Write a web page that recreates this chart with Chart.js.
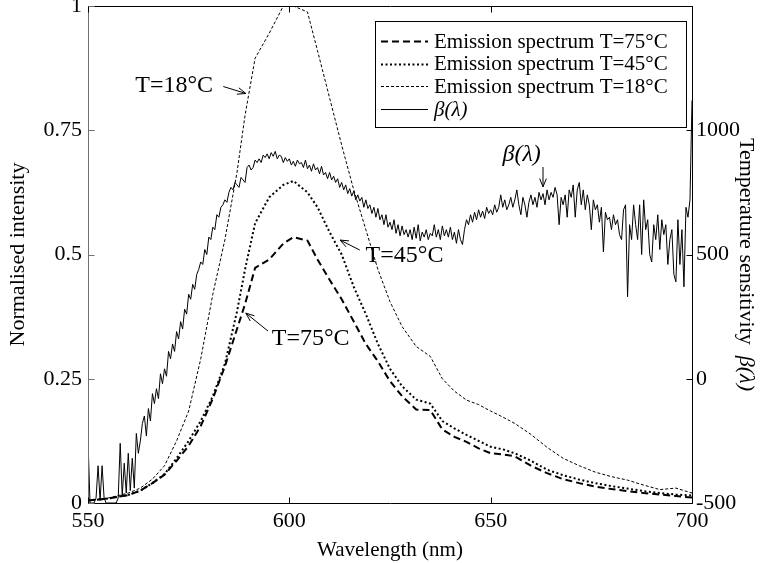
<!DOCTYPE html>
<html><head><meta charset="utf-8">
<script src="https://cdn.jsdelivr.net/npm/chart.js@4.4.0/dist/chart.umd.min.js"></script>
<style>html,body{margin:0;padding:0;background:#fff;}</style>
</head><body><canvas id="c" width="769" height="563"></canvas>
<script>
// ---- data ----
const specWl = [550,555,560,563,566,569,572,575,578,581,584,587,589,591.5,595,598.5,601,604.5,607,610,613,616,619,622,625,628,631.5,635,638,641,644,647,650,653,656,660,664,668,672,676,680,684,688,692,696,700];
const t75 = [0.005,0.009,0.016,0.025,0.04,0.057,0.085,0.115,0.155,0.21,0.275,0.35,0.4,0.473,0.49,0.522,0.535,0.528,0.49,0.449,0.41,0.365,0.32,0.285,0.245,0.215,0.188,0.187,0.148,0.133,0.123,0.11,0.1,0.098,0.094,0.075,0.06,0.048,0.04,0.033,0.028,0.024,0.02,0.017,0.014,0.011];
const t45 = [0.005,0.009,0.016,0.025,0.04,0.058,0.09,0.125,0.165,0.215,0.28,0.385,0.47,0.563,0.615,0.64,0.648,0.625,0.595,0.545,0.5,0.435,0.38,0.32,0.27,0.235,0.208,0.2,0.165,0.15,0.137,0.125,0.113,0.108,0.1,0.085,0.067,0.056,0.047,0.04,0.034,0.029,0.024,0.02,0.017,0.015];
const t18 = [0.005,0.01,0.02,0.03,0.048,0.075,0.125,0.185,0.29,0.42,0.53,0.665,0.78,0.895,0.945,1.0,1.0,0.988,0.91,0.815,0.72,0.63,0.55,0.47,0.405,0.355,0.315,0.295,0.25,0.225,0.207,0.198,0.185,0.173,0.16,0.138,0.112,0.09,0.075,0.062,0.053,0.046,0.036,0.027,0.03,0.02];
const betaWl = [
550,550.5,551,551.5,552,552.5,553,553.5,554,554.5,555,555.5,556,556.5,557,557.5,558,558.5,559,559.5,
560,560.5,561,561.5,562,562.5,563,563.5,564,564.5,565,565.5,566,566.5,567,567.5,568,568.5,569,569.5,
570,570.5,571,571.5,572,572.5,573,573.5,574,574.5,575,575.5,576,576.5,577,577.5,578,578.5,579,579.5,
580,580.5,581,581.5,582,582.5,583,583.5,584,584.5,585,585.5,586,586.5,587,587.5,588,588.5,589,589.5,
590,590.5,591,591.5,592,592.5,593,593.5,594,594.5,595,595.5,596,596.5,597,597.5,598,598.5,599,599.5,
600,600.5,601,601.5,602,602.5,603,603.5,604,604.5,605,605.5,606,606.5,607,607.5,608,608.5,609,609.5,
610,610.5,611,611.5,612,612.5,613,613.5,614,614.5,615,615.5,616,616.5,617,617.5,618,618.5,619,619.5,
620,620.5,621,621.5,622,622.5,623,623.5,624,624.5,625,625.5,626,626.5,627,627.5,628,628.5,629,629.5,
630,630.5,631,631.5,632,632.5,633,633.5,634,634.5,635,635.5,636,636.5,637,637.5,638,638.5,639,639.5,
640,640.5,641,641.5,642,642.5,643,643.5,644,644.5,645,645.5,646,646.5,647,647.5,648,648.5,649,649.5,
650,650.5,651,651.5,652,652.5,653,653.5,654,654.5,655,655.5,656,656.5,657,657.5,658,658.5,659,659.5,
660,660.5,661,661.5,662,662.5,663,663.5,664,664.5,665,665.5,666,666.5,667,667.5,668,668.5,669,669.5,
670,670.5,671,671.5,672,672.5,673,673.5,674,674.5,675,675.5,676,676.5,677,677.5,678,678.5,679,679.5,
680,680.5,681,681.5,682,682.5,683,683.5,684,684.5,685,685.5,686,686.5,687,687.5,688,688.5,689,689.5,
690,690.5,691,691.5,692,692.5,693,693.5,694,694.5,695,695.5,696,696.5,697,697.5,698,698.5,699,699.5,
700];
const beta = [
-250,-500,-500,-500,-480,-350,-490,-350,-480,-500,-500,-500,-500,-500,-500,-480,-260,-470,-340,-460,
-300,-450,-320,-440,-220,-300,-250,-180,-150,-230,-120,-170,-60,-100,-40,-80,20,-20,40,10,
110,80,140,110,190,160,230,200,280,260,340,320,380,360,420,440,470,460,520,500,
570,560,610,600,660,650,690,700,720,710,750,770,760,790,780,770,810,800,790,850,
860,840,850,880,870,885,870,900,890,905,885,910,895,915,885,900,895,870,890,875,
885,860,875,855,880,865,870,850,880,845,860,835,865,840,850,825,855,820,830,805,
830,800,815,790,805,770,790,760,780,745,765,735,755,720,740,715,730,690,720,685,
700,665,690,650,685,640,660,620,660,610,630,600,640,585,620,575,615,580,600,570,
600,560,610,565,620,555,590,570,600,560,585,575,620,570,600,560,615,575,600,570,
610,560,590,545,600,560,540,600,640,620,660,630,670,640,680,650,675,645,690,665,
680,660,700,670,690,740,690,720,680,700,730,690,720,760,700,660,730,700,650,710,
740,700,730,690,750,720,745,700,760,720,750,730,770,740,620,730,700,740,650,760,
730,780,650,760,790,700,760,680,740,700,600,720,680,700,630,690,510,670,640,650,
600,660,620,640,580,560,680,700,330,620,560,700,620,560,700,500,720,600,640,500,
470,620,560,660,520,640,580,620,460,560,600,420,390,640,460,600,370,690,650,720,
1120];
const xTicks = [550,600,650,700];
const yTicks = [0,0.25,0.5,0.75,1];
const y2Ticks = [-500,0,500,1000,1500];
const legendLabels = ['Emission spectrum T=75\u00B0C','Emission spectrum T=45\u00B0C','Emission spectrum T=18\u00B0C','\u03B2(\u03BB)'];

// ---- styles ----
const FONT = '"Liberation Serif", "Times New Roman", serif';
const tickFont = {family: FONT, size: 22};
const styles = [
  {w:2, dash:[7,4]},
  {w:2, dash:[2,2.5]},
  {w:1, dash:[3,2]},
  {w:1, dash:[]}
];
const pts = (xs, ys) => xs.map((x,i)=>({x:x, y:ys[i]}));

const annotations = [
  {text:'T=18\u00B0C', tx:571.4, ty:0.84, ax0:583.6, ay0:0.838, ax1:589.2, ay1:0.824},
  {text:'T=45\u00B0C', tx:628.6, ty:0.497, ax0:617.5, ay0:0.509, ax1:612.6, ay1:0.529},
  {text:'T=75\u00B0C', tx:605.3, ty:0.33, ax0:594.7, ay0:0.346, ax1:589.2, ay1:0.382},
  {text:'\u03B2(\u03BB)', tx:657.7, ty:0.70, ax0:663, ay0:0.676, ax1:663, ay1:0.636, italic:true}
];

function arrow(ctx, x0,y0,x1,y1){
  ctx.beginPath(); ctx.moveTo(x0,y0); ctx.lineTo(x1,y1); ctx.stroke();
  const ang = Math.atan2(y1-y0, x1-x0), L = 9, s = 0.38;
  ctx.beginPath();
  ctx.moveTo(x1 - L*Math.cos(ang-s), y1 - L*Math.sin(ang-s));
  ctx.lineTo(x1,y1);
  ctx.lineTo(x1 - L*Math.cos(ang+s), y1 - L*Math.sin(ang+s));
  ctx.stroke();
}

const decor = {
  id:'decor',
  afterDatasetsDraw(chart){
    const {ctx, chartArea:a, scales} = chart;
    const X = scales.x, Y = scales.y, Y2 = scales.y2;
    ctx.save();
    ctx.setLineDash([]);
    ctx.lineWidth = 1;
    const L = Math.round(a.left)+0.5, R = Math.round(a.right)+0.5, T = Math.round(a.top)+0.5, B = Math.round(a.bottom)+0.5;
    // frame
    ctx.strokeStyle = '#000';
    ctx.beginPath(); ctx.moveTo(L,T); ctx.lineTo(R,T); ctx.stroke();
    ctx.beginPath(); ctx.moveTo(L,B); ctx.lineTo(R,B); ctx.stroke();
    ctx.beginPath(); ctx.moveTo(R,T); ctx.lineTo(R,B); ctx.stroke();
    ctx.strokeStyle = '#707070';
    ctx.beginPath(); ctx.moveTo(L,T); ctx.lineTo(L,B); ctx.stroke();
    // inward ticks
    const tl = 6;
    ctx.strokeStyle = '#707070';
    yTicks.forEach(v=>{const p=Math.round(Y.getPixelForValue(v))+0.5; ctx.beginPath(); ctx.moveTo(L,p); ctx.lineTo(L+tl,p); ctx.stroke();});
    ctx.strokeStyle = '#000';
    y2Ticks.forEach(v=>{const p=Math.round(Y2.getPixelForValue(v))+0.5; ctx.beginPath(); ctx.moveTo(R,p); ctx.lineTo(R-tl,p); ctx.stroke();});
    xTicks.forEach(v=>{const p=Math.round(X.getPixelForValue(v))+0.5;
      ctx.beginPath(); ctx.moveTo(p,B); ctx.lineTo(p,B-tl); ctx.stroke();
      ctx.beginPath(); ctx.moveTo(p,T); ctx.lineTo(p,T+tl); ctx.stroke();});
    // axis titles
    ctx.fillStyle = '#000';
    ctx.font = '21px ' + FONT;
    ctx.textAlign = 'center'; ctx.textBaseline = 'middle';
    ctx.fillText('Wavelength (nm)', (a.left+a.right)/2, 550);
    ctx.font = '22px ' + FONT;
    ctx.save();
    ctx.translate(18, (a.top+a.bottom)/2);
    ctx.rotate(-Math.PI/2);
    ctx.fillText('Normalised intensity', 0, 0);
    ctx.restore();
    ctx.save();
    ctx.translate(746, (a.top+a.bottom)/2 + 10);
    ctx.rotate(Math.PI/2);
    const p1 = 'Temperature sensitivity  ', p2 = '\u03B2(\u03BB)';
    ctx.font = '22px ' + FONT;
    const w1 = ctx.measureText(p1).width;
    ctx.font = 'italic 22px ' + FONT;
    const w2 = ctx.measureText(p2).width;
    ctx.textAlign = 'left';
    ctx.font = '22px ' + FONT;
    ctx.fillText(p1, -(w1+w2)/2, 0);
    ctx.font = 'italic 22px ' + FONT;
    ctx.fillText(p2, -(w1+w2)/2 + w1, 0);
    ctx.restore();
    // annotations
    ctx.lineWidth = 1; ctx.strokeStyle = '#000';
    annotations.forEach(an=>{
      ctx.font = (an.italic?'italic ':'') + '24px ' + FONT;
      ctx.textAlign = 'center'; ctx.textBaseline = 'middle';
      ctx.fillText(an.text, X.getPixelForValue(an.tx), Y.getPixelForValue(an.ty));
      arrow(ctx, X.getPixelForValue(an.ax0), Y.getPixelForValue(an.ay0), X.getPixelForValue(an.ax1), Y.getPixelForValue(an.ay1));
    });
    // legend
    const bx = 375.5, by = 21.5, bw = 311, bh = 106;
    ctx.fillStyle = '#fff'; ctx.fillRect(bx, by, bw, bh);
    ctx.strokeStyle = '#000'; ctx.lineWidth = 1; ctx.setLineDash([]);
    ctx.strokeRect(bx, by, bw, bh);
    ctx.fillStyle = '#000';
    legendLabels.forEach((lab,i)=>{
      const yy = 41 + i*22.7;
      ctx.lineWidth = styles[i].w; ctx.setLineDash(styles[i].dash);
      ctx.beginPath(); ctx.moveTo(381, Math.round(yy)+0.5); ctx.lineTo(428, Math.round(yy)+0.5); ctx.stroke();
      ctx.setLineDash([]);
      ctx.font = (i===3?'italic ':'') + '21px ' + FONT;
      ctx.textAlign = 'left'; ctx.textBaseline = 'middle';
      ctx.fillText(lab, 434, yy+1);
    });
    ctx.restore();
  }
};

const fixTicks = arr => s => { s.ticks = arr.map(v=>({value:v})); };

new Chart(document.getElementById('c'), {
  type:'line',
  data:{datasets:[
    {label:legendLabels[0], data:pts(specWl,t75), yAxisID:'y', borderColor:'#000', borderWidth:styles[0].w, borderDash:styles[0].dash, pointRadius:0, tension:0, fill:false},
    {label:legendLabels[1], data:pts(specWl,t45), yAxisID:'y', borderColor:'#000', borderWidth:styles[1].w, borderDash:styles[1].dash, pointRadius:0, tension:0, fill:false},
    {label:legendLabels[2], data:pts(specWl,t18), yAxisID:'y', borderColor:'#000', borderWidth:styles[2].w, borderDash:styles[2].dash, pointRadius:0, tension:0, fill:false},
    {label:legendLabels[3], data:pts(betaWl,beta), yAxisID:'y2', borderColor:'#000', borderWidth:styles[3].w, pointRadius:0, tension:0, fill:false}
  ]},
  options:{
    responsive:false, animation:false, devicePixelRatio:1,
    layout:{padding:{top:6,left:0,right:0,bottom:0}},
    plugins:{legend:{display:false}, tooltip:{enabled:false}},
    scales:{
      x:{type:'linear', position:'bottom', min:550, max:700,
         afterBuildTicks:fixTicks(xTicks),
         grid:{display:false, drawTicks:false}, border:{display:false},
         ticks:{font:tickFont, color:'#000', padding:5, maxRotation:0, autoSkip:false},
         afterFit:s=>{s.height=60; s.paddingLeft=0; s.paddingRight=0;}},
      y:{type:'linear', position:'left', min:0, max:1,
         afterBuildTicks:fixTicks(yTicks),
         grid:{display:false, drawTicks:false}, border:{display:false},
         ticks:{font:tickFont, color:'#000', padding:6, autoSkip:false, callback:v=>String(v)},
         afterFit:s=>{s.width=88; s.paddingTop=0; s.paddingBottom=0;}},
      y2:{type:'linear', position:'right', min:-500, max:1500,
         afterBuildTicks:fixTicks(y2Ticks),
         grid:{display:false, drawTicks:false}, border:{display:false},
         ticks:{font:tickFont, color:'#000', padding:4, autoSkip:false, callback:v=> v===1500 ? '' : String(v)},
         afterFit:s=>{s.width=77; s.paddingTop=0; s.paddingBottom=0;}}
    }
  },
  plugins:[decor]
});
</script></body></html>
